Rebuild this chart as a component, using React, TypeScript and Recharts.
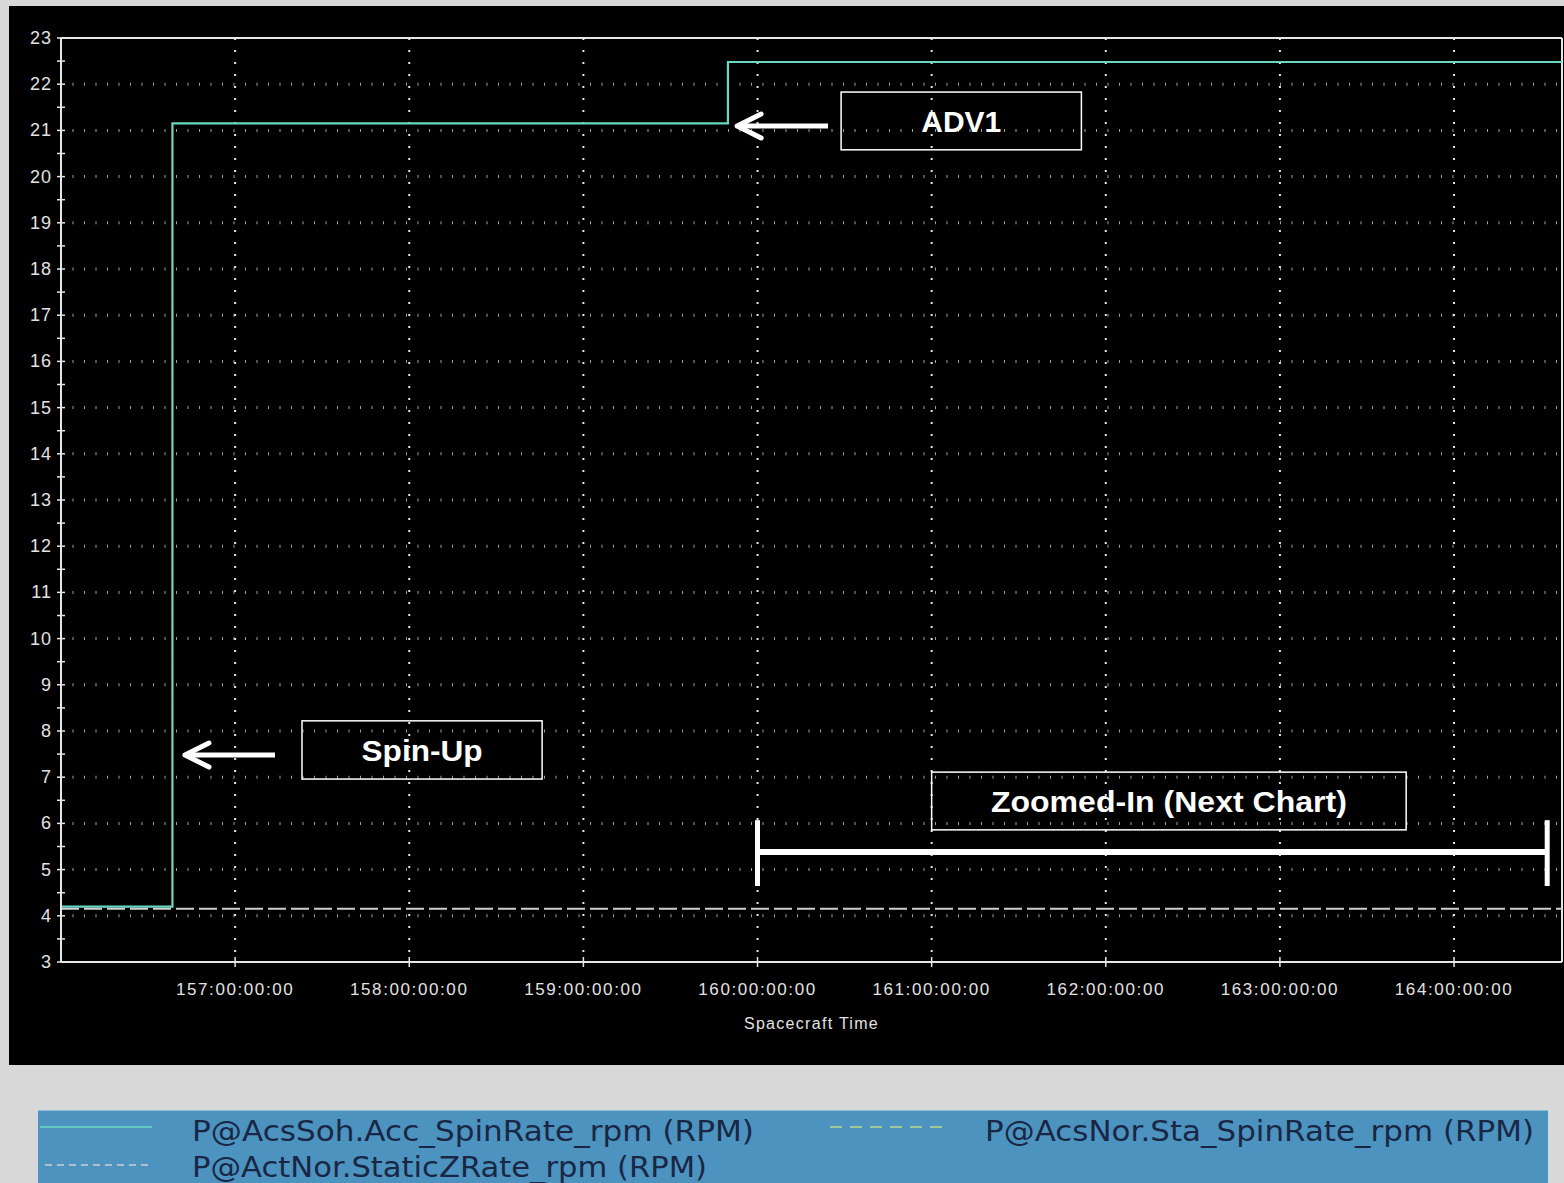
import React from "react"
import {
  LineChart,
  Line,
  XAxis,
  YAxis,
  CartesianGrid,
  Legend,
  ReferenceLine,
  ReferenceArea,
} from "recharts"

// spacecraft time in days (DOY), spin rates in rpm
const timeDays = [156, 156.64, 159.83, 164.62]
const accSpinRate = [4.2, 21.15, 22.48, 22.48]
const staSpinRate = [4.2, 21.15, 22.48, 22.48]
const staticZRate = [4.15, 4.15, 4.15, 4.15]

const dayTicks = [157, 158, 159, 160, 161, 162, 163, 164]
const yMajor = [3, 4, 5, 6, 7, 8, 9, 10, 11, 12, 13, 14, 15, 16, 17, 18, 19, 20, 21, 22, 23]
const yTicks = yMajor.flatMap((v) => (v < 23 ? [v, v + 0.5] : [v]))

const data = timeDays.map((t, i) => ({
  t,
  acc: accSpinRate[i],
  sta: staSpinRate[i],
  staticZ: staticZRate[i],
}))

const X_MIN = 156
const X_MAX = 164.62

// annotation boxes, in data coordinates
const boxes = [
  { text: "ADV1", x1: 160.48, x2: 161.86, y1: 20.58, y2: 21.83, w: 80 },
  { text: "Spin-Up", x1: 157.384, x2: 158.763, y1: 6.96, y2: 8.22, w: 121 },
  { text: "Zoomed-In (Next Chart)", x1: 161.0, x2: 163.725, y1: 5.86, y2: 7.11, w: 356 },
]

const arrows = [
  { from: { x: 160.405, y: 21.095 }, to: { x: 159.883, y: 21.095 } },
  { from: { x: 157.229, y: 7.48 }, to: { x: 156.712, y: 7.48 } },
]

const bracket = { x1: 160.0, x2: 164.535, y: 5.38, top: 6.07, bottom: 4.645 }

const AXIS = "#e6e6e6"
const TICK_FONT = "'Liberation Sans', Arial, sans-serif"

function XTick(props: any) {
  const { x, y, payload } = props
  return (
    <g>
      <line x1={x} x2={x} y1={y - 5} y2={y + 5} stroke={AXIS} strokeWidth={1.5} />
      <text
        x={x}
        y={y + 27}
        textAnchor="middle"
        dominantBaseline="central"
        fill="#e2e2e2"
        fontSize={17}
        fontFamily={TICK_FONT}
        style={{ letterSpacing: "1.6px" }}
      >
        {`${payload.value}:00:00:00`}
      </text>
    </g>
  )
}

function YTick(props: any) {
  const { x, y, payload } = props
  const major = Number.isInteger(payload.value)
  return (
    <g>
      <line x1={x - 4} x2={x + 4} y1={y} y2={y} stroke={AXIS} strokeWidth={1.5} />
      {major && (
        <text
          x={x - 9}
          y={y}
          textAnchor="end"
          dominantBaseline="central"
          fill="#e2e2e2"
          fontSize={18}
          fontFamily={TICK_FONT}
          style={{ letterSpacing: "1px" }}
        >
          {payload.value}
        </text>
      )}
    </g>
  )
}

function arrowShape(p: any) {
  const { x1, y1, x2, y2 } = p
  return (
    <g stroke="#fff" strokeWidth={5} strokeLinecap="round" fill="none">
      <line x1={x1} y1={y1} x2={x2 + 4} y2={y2} strokeLinecap="butt" />
      <polyline points={`${x2 + 24},${y2 - 12} ${x2},${y2} ${x2 + 24},${y2 + 12}`} strokeLinejoin="round" />
    </g>
  )
}

function thickLine(width: number) {
  return (p: any) => (
    <line x1={p.x1} y1={p.y1} x2={p.x2} y2={p.y2} stroke="#fff" strokeWidth={width} />
  )
}

function boxShape(text: string, w: number) {
  return (p: any) => (
    <g>
      <rect x={p.x} y={p.y} width={p.width} height={p.height} fill="none" stroke="#fff" strokeWidth={1.5} />
      <text
        x={p.x + p.width / 2}
        y={p.y + p.height / 2 + 1}
        textAnchor="middle"
        dominantBaseline="central"
        fill="#fff"
        fontSize={29}
        fontWeight="bold"
        fontFamily={TICK_FONT}
        textLength={w}
        lengthAdjust="spacingAndGlyphs"
      >
        {text}
      </text>
    </g>
  )
}

const legendSlots: Record<string, any> = {
  acc: { x1: 40, x2: 152, y: 62, dash: undefined, tx: 192, ty: 66, tw: 562 },
  sta: { x1: 830, x2: 945, y: 62, dash: "12 8", tx: 985, ty: 66, tw: 549 },
  staticZ: { x1: 45, x2: 152, y: 100, dash: "7 5", tx: 192, ty: 102, tw: 515 },
}

function LegendPanel(props: any) {
  const { payload = [] } = props
  return (
    <div style={{ position: "relative", width: 1564, height: 118 }}>
      <div
        style={{
          position: "absolute",
          left: 38,
          top: 45,
          width: 1510,
          height: 80,
          background: "#4c93c0",
          borderTop: "1px solid #8fbbd6",
        }}
      />
      <svg width={1564} height={118} style={{ position: "absolute", left: 0, top: 0 }}>
        {payload.map((entry: any) => {
          const s = legendSlots[entry.dataKey]
          if (!s) return null
          return (
            <g key={entry.dataKey}>
              <line x1={s.x1} x2={s.x2} y1={s.y} y2={s.y} stroke={entry.color} strokeWidth={1.5} strokeDasharray={s.dash} />
              <text
                x={s.tx}
                y={s.ty}
                dominantBaseline="central"
                fill="#1a2744"
                fontSize={29}
                fontFamily="'DejaVu Sans', sans-serif"
                textLength={s.tw}
                lengthAdjust="spacingAndGlyphs"
              >
                {entry.value}
              </text>
            </g>
          )
        })}
      </svg>
    </div>
  )
}

export default function App() {
  return (
    <div
      style={{
        position: "absolute",
        left: 0,
        top: 0,
        width: 1564,
        height: 1183,
        background: "#d8d8d8",
        overflow: "hidden",
      }}
    >
      <div style={{ position: "absolute", left: 9, top: 6, width: 1555, height: 1059, background: "#000" }} />
      <div style={{ position: "absolute", left: 9, top: 6 }}>
        <LineChart width={1555} height={1177} data={data} margin={{ top: 32, right: 2, left: 0, bottom: 0 }}>
          <CartesianGrid
            vertical={false}
            horizontalValues={yMajor.slice(1, -1)}
            stroke="#8fa89f"
            strokeWidth={3}
            strokeDasharray="1 10.5"
          />
          <CartesianGrid
            horizontal={false}
            verticalValues={dayTicks}
            stroke="#e6e6e6"
            strokeWidth={2}
            strokeDasharray="2 10"
          />
          <XAxis
            type="number"
            dataKey="t"
            domain={[X_MIN, X_MAX]}
            ticks={dayTicks}
            allowDataOverflow
            height={103}
            tickSize={0}
            tickMargin={0}
            tick={<XTick />}
            axisLine={{ stroke: AXIS, strokeWidth: 2 }}
            label={{
              value: "Spacecraft Time",
              position: "insideBottom",
              offset: 36,
              fill: "#e2e2e2",
              fontSize: 16,
              fontFamily: TICK_FONT,
              style: { letterSpacing: "1.3px" },
            }}
          />
          <YAxis
            type="number"
            domain={[3, 23]}
            ticks={yTicks}
            interval={0}
            width={52}
            tickSize={0}
            tickMargin={0}
            tick={<YTick />}
            axisLine={{ stroke: AXIS, strokeWidth: 2 }}
          />
          <ReferenceLine y={23} stroke={AXIS} strokeWidth={2} />
          <ReferenceLine x={X_MAX} stroke={AXIS} strokeWidth={2} />

          <Line
            type="stepAfter"
            dataKey="sta"
            name="P@AcsNor.Sta_SpinRate_rpm (RPM)"
            stroke="#b8d98c"
            strokeWidth={1}
            strokeDasharray="12 8"
            dot={false}
            isAnimationActive={false}
          />
          <Line
            type="linear"
            dataKey="staticZ"
            name="P@ActNor.StaticZRate_rpm (RPM)"
            stroke="#cfcfcf"
            strokeWidth={2}
            strokeDasharray="18 5"
            dot={false}
            isAnimationActive={false}
          />
          <Line
            type="stepAfter"
            dataKey="acc"
            name="P@AcsSoh.Acc_SpinRate_rpm (RPM)"
            stroke="#6ad7c3"
            strokeWidth={2.2}
            dot={false}
            isAnimationActive={false}
          />

          {boxes.map((b) => (
            <ReferenceArea key={b.text} x1={b.x1} x2={b.x2} y1={b.y1} y2={b.y2} shape={boxShape(b.text, b.w)} />
          ))}
          {arrows.map((a, i) => (
            <ReferenceLine key={`arrow-${i}`} segment={[a.from, a.to]} shape={arrowShape} />
          ))}
          <ReferenceLine
            segment={[{ x: bracket.x1, y: bracket.y }, { x: bracket.x2, y: bracket.y }]}
            shape={thickLine(6)}
          />
          <ReferenceLine
            segment={[{ x: bracket.x1, y: bracket.top }, { x: bracket.x1, y: bracket.bottom }]}
            shape={thickLine(5)}
          />
          <ReferenceLine
            segment={[{ x: bracket.x2, y: bracket.top }, { x: bracket.x2, y: bracket.bottom }]}
            shape={thickLine(5)}
          />

          <Legend
            verticalAlign="bottom"
            content={<LegendPanel />}
            wrapperStyle={{ left: -9, bottom: 0, width: 1564, height: 118 }}
          />
        </LineChart>
      </div>
    </div>
  )
}
